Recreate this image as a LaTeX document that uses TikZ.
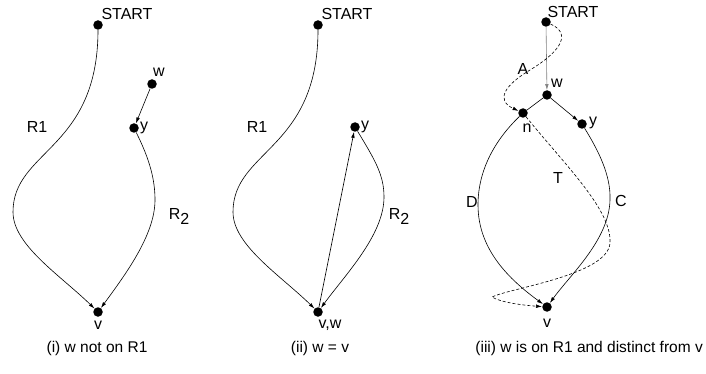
\documentclass[tikz,border=0pt]{standalone}
\usepackage{fontspec}
\setmainfont{Liberation Sans}
\usetikzlibrary{arrows.meta}

\begin{document}
\begin{tikzpicture}[x=1pt,y=-1pt,font=\fontsize{16}{19}\selectfont,
  vertex/.style={circle,fill=black,inner sep=0pt,minimum size=9.5pt},
  lbl/.style={inner sep=0pt},
  caption/.style={inner sep=0pt,font=\fontsize{15.5}{18}\selectfont},
  arr/.style={-{Latex[length=6pt,width=3.6pt]},line width=0.6pt},
  walk/.style={arr,dash pattern=on 3pt off 2pt}]

  \useasboundingbox (0,0) rectangle (706,374);

  %,  Panels (i) and (ii): START, v and the route R1, 
  \foreach \p/\dx in {1/0,2/220}{
    \node[vertex] (s\p) at (98+\dx,25) {};
    \node[lbl] (st\p) at (127+\dx,14) {START};
    \node[vertex] (v\p) at (98+\dx,312) {};
    \node[lbl] (ra\p) at (37+\dx,127) {R1};
    \draw[arr] (s\p) .. controls (98+\dx,150) and (13+\dx,150) .. (13+\dx,212)
      .. controls (13+\dx,245) and (60+\dx,275) .. (v\p);
  }

  %,  Panel (i), 
  \node[vertex] (w1) at (152,84) {};
  \node[lbl] (lw1) at (159,72) {w};
  \node[vertex] (y1) at (134,128) {};
  \node[lbl] (ly1) at (144,128) {y};
  \node[lbl] (lv1) at (98,325) {v};
  \node[lbl] (rb1) at (179,216) {R\raisebox{-5pt}{2}};
  \draw[arr] (w1) -- (y1);
  \draw[arr] (y1) .. controls (150,160) and (155,180) .. (155,200)
    .. controls (155,235) and (125,275) .. (v1);
  \node[caption] (cap1) at (97,348) {(i) w not on R1};

  %,  Panel (ii), 
  \node[vertex] (y2) at (355,127) {};
  \node[lbl] (ly2) at (365,127) {y};
  \node[lbl] (lv2) at (330,325) {v,w};
  \node[lbl] (rb2) at (399,216) {R\raisebox{-5pt}{2}};
  \draw[arr] (v2) -- (y2);
  \draw[arr] (y2) .. controls (375,160) and (384,175) .. (384,197)
    .. controls (384,235) and (345,275) .. (v2);
  \node[caption] (cap2) at (320,348) {(ii) w = v};

  %,  Panel (iii), 
  \node[vertex] (s3) at (546,22) {};
  \node[lbl] (st3) at (573,12) {START};
  \node[vertex] (w3) at (547,95) {};
  \node[lbl] (lw3) at (557,83) {w};
  \node[vertex] (n3) at (523,113) {};
  \node[lbl] (ln3) at (527,128) {n};
  \node[vertex] (y3) at (582,124) {};
  \node[lbl] (ly3) at (593,123) {y};
  \node[vertex] (v3) at (547,307) {};
  \node[lbl] (lv3) at (547,323) {v};
  \node[lbl] (la) at (523,69) {A};
  \node[lbl] (lt) at (558,178) {T};
  \node[lbl] (ld) at (472,202) {D};
  \node[lbl] (lc) at (621,201) {C};

  \draw[arr,gray] (s3) -- (w3);
  \draw[line width=0.6pt] (w3) -- (n3);
  \draw[arr] (w3) -- (y3);
  \draw[arr] (n3) .. controls (495,140) and (478,170) .. (478,205)
    .. controls (478,250) and (510,280) .. (v3);
  \draw[arr] (y3) .. controls (598,150) and (611,175) .. (610,200)
    .. controls (609,240) and (570,275) .. (v3);
  \draw[walk] (s3) .. controls (575,35) and (555,55) .. (530,70)
    .. controls (505,85) and (495,100) .. (n3);
  \draw[walk] (n3) .. controls (565,165) and (612,210) .. (610,243)
    .. controls (608,275) and (510,288) .. (492,297)
    .. controls (500,302) and (520,305) .. (v3);
  \node[caption,anchor=east] (cap3) at (703,348) {(iii) w is on R1 and distinct from v};

\end{tikzpicture}
\end{document}
